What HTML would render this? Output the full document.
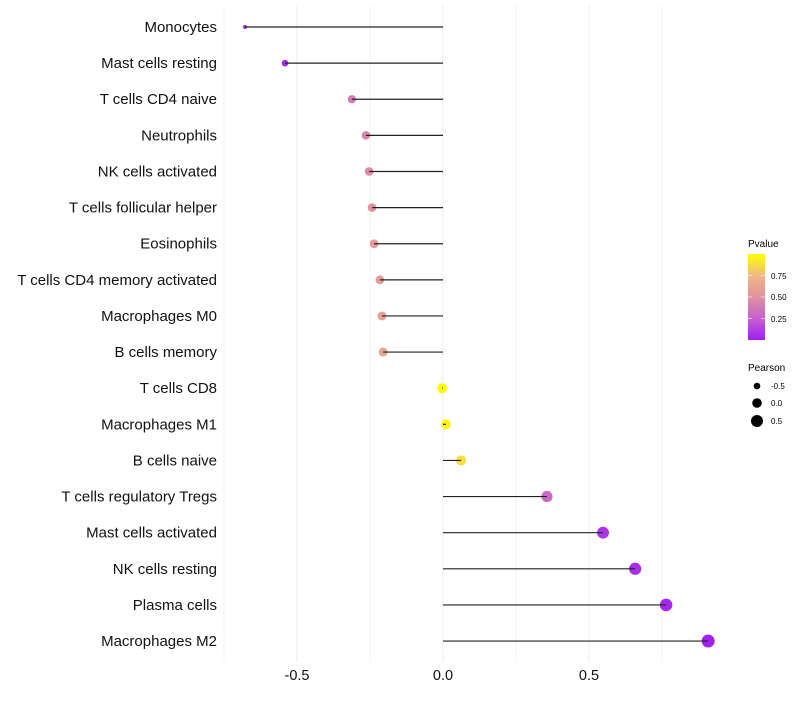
<!DOCTYPE html>
<html><head><meta charset="utf-8"><style>
body{margin:0;background:#fff;font-family:"Liberation Sans",sans-serif}
</style></head><body>
<svg id="chart" width="800" height="700" xmlns="http://www.w3.org/2000/svg" font-family="Liberation Sans, sans-serif">
<defs><linearGradient id="pg" x1="0" y1="1" x2="0" y2="0">
<stop offset="0" stop-color="#A020F0"/><stop offset="0.25" stop-color="#C660D0"/><stop offset="0.5" stop-color="#E0929E"/><stop offset="0.75" stop-color="#F0B886"/><stop offset="1" stop-color="#FFFF00"/></linearGradient></defs>
<g id="grid"></g>
<g id="dots"></g>
<g id="marks"></g>
<g id="axes"></g>
<g>
<text x="748" y="247" font-size="10">Pvalue</text>
<rect x="748" y="254" width="17" height="86" fill="url(#pg)"/>
<line x1="748" y1="275.5" x2="752" y2="275.5" stroke="#fff" opacity="0.6"/><line x1="761" y1="275.5" x2="765" y2="275.5" stroke="#fff" opacity="0.6"/>
<line x1="748" y1="297" x2="752" y2="297" stroke="#fff" opacity="0.6"/><line x1="761" y1="297" x2="765" y2="297" stroke="#fff" opacity="0.6"/>
<line x1="748" y1="318.5" x2="752" y2="318.5" stroke="#fff" opacity="0.6"/><line x1="761" y1="318.5" x2="765" y2="318.5" stroke="#fff" opacity="0.6"/>
<text x="771" y="279" font-size="8">0.75</text>
<text x="771" y="300" font-size="8">0.50</text>
<text x="771" y="322" font-size="8">0.25</text>
</g>
<g>
<text x="748" y="371" font-size="10">Pearson</text>
<circle cx="757" cy="386" r="3.3" fill="#000"/><text x="771" y="389" font-size="8">-0.5</text>
<circle cx="757" cy="403" r="4.8" fill="#000"/><text x="771" y="406" font-size="8">0.0</text>
<circle cx="757" cy="421" r="6" fill="#000"/><text x="771" y="424" font-size="8">0.5</text>
</g>
</svg>
<script>
const categories=["Monocytes","Mast cells resting","T cells CD4 naive","Neutrophils","NK cells activated","T cells follicular helper","Eosinophils","T cells CD4 memory activated","Macrophages M0","B cells memory","T cells CD8","Macrophages M1","B cells naive","T cells regulatory  Tregs","Mast cells activated","NK cells resting","Plasma cells","Macrophages M2"];
const pearson=[-0.678,-0.541,-0.312,-0.264,-0.253,-0.243,-0.236,-0.216,-0.209,-0.205,-0.003,0.01,0.062,0.356,0.548,0.658,0.764,0.908];
const pvalue=[0.02,0.04,0.38,0.44,0.47,0.5,0.55,0.58,0.6,0.62,0.99,0.97,0.88,0.3,0.08,0.05,0.03,0.005];
const xTicks=[-0.5,0,0.5];
const xTickLabels=["-0.5","0.0","0.5"];
const NS="http://www.w3.org/2000/svg";
const x=v=>443+v*292;
const y=i=>27+i*36.12;
const rad=v=>2+4.5*Math.sqrt(Math.max(0,(v+0.678)/1.586));
const stops=[[0,[160,32,240]],[0.25,[198,96,208]],[0.5,[224,146,158]],[0.75,[240,184,134]],[1,[255,255,0]]];
const col=p=>{for(let k=1;k<stops.length;k++){if(p<=stops[k][0]){const [p0,a]=stops[k-1],[p1,b]=stops[k];const f=(p-p0)/(p1-p0);return "rgb("+a.map((c,j)=>Math.round(c+(b[j]-c)*f)).join(",")+")";}}return "rgb(255,255,0)";};
function mk(tag,attrs,parent){const e=document.createElementNS(NS,tag);for(const k in attrs)e.setAttribute(k,attrs[k]);document.getElementById(parent).appendChild(e);return e;}
for(let g=-0.75;g<=0.76;g+=0.25){const l=mk("line",{x1:x(g),x2:x(g),y1:5,y2:662,stroke:"#ebebeb","stroke-width":g%0.5===0?1:0.6},"grid");

}
xTicks.forEach((t,i)=>{const e=mk("text",{x:x(t),y:680,"font-size":14.5,"text-anchor":"middle",fill:"#111"},"axes");e.textContent=xTickLabels[i];

});
categories.forEach((c,i)=>{
const t=mk("text",{x:217,y:y(i)+5,"font-size":15,"text-anchor":"end",fill:"#111"},"axes");t.textContent=c;


const d=mk("circle",{cx:x(pearson[i]),cy:y(i),r:rad(pearson[i]),fill:col(pvalue[i])},"dots");


const l=mk("line",{x1:x(0),x2:x(pearson[i]),y1:y(i),y2:y(i),stroke:"#222","stroke-width":1.2},"marks");


});
</script>
</body></html>
